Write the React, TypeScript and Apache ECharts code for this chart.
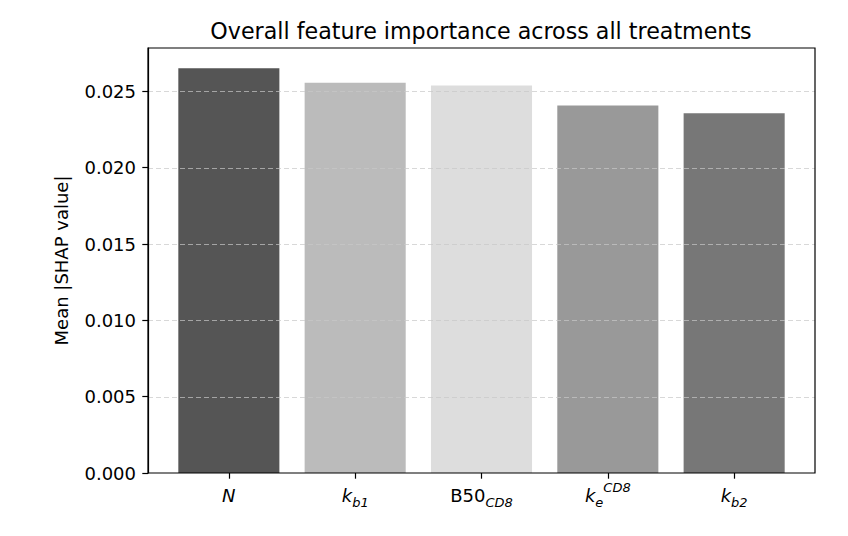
import React, { useEffect, useRef } from "react";
import * as echarts from "echarts";

const categories = ["N", "kb1", "B50CD8", "keCD8", "kb2"];
const categoryLabels = [
  "{i|N}",
  "{i|k}{sub|b1}",
  "{r|B50}{sub|CD8}",
  "{i|k}{sub|e}{sup|CD8}",
  "{i|k}{sub|b2}",
];
const values = [0.02651, 0.02556, 0.02539, 0.02408, 0.02356];
const barColors = ["#555555", "#bbbbbb", "#dddddd", "#999999", "#777777"];
const yMax = 0.02784;
const yGridTicks = [0.005, 0.01, 0.015, 0.02, 0.025];
const titleText = "Overall feature importance across all treatments";
const yName = "Mean |SHAP value|";

const FONT = "DejaVu Sans";

export default function App() {
  const ref = useRef<HTMLDivElement>(null);
  useEffect(() => {
    if (!ref.current) return;
    const chart = echarts.init(ref.current, null, { renderer: "svg" });
    const unit = (848 - 148 - 33) / 5.28;
    const inset = 0.14 * unit;
    chart.setOption({
      animation: false,
      textStyle: { fontFamily: FONT },
      graphic: [
        {
          type: "text",
          x: 481,
          y: 31,
          style: {
            text: titleText,
            fontFamily: FONT,
            fontSize: 22.2,
            fill: "#000",
            align: "center",
            verticalAlign: "middle",
          },
        },
      ],
      grid: [
        {
          left: 148,
          right: 33,
          top: 48,
          bottom: 63,
          show: true,
          borderColor: "#000",
          borderWidth: 1.2,
          backgroundColor: "transparent",
          z: 20,
        },
        {
          left: 148 + inset,
          right: 33 + inset,
          top: 48,
          bottom: 63,
        },
      ],
      xAxis: [
        { type: "value", gridIndex: 0, show: false, min: 0, max: 1 },
        {
          type: "category",
          gridIndex: 1,
          data: categories,
          axisLine: { show: false },
          axisTick: {
            show: true,
            alignWithLabel: true,
            length: 5.7,
            lineStyle: { color: "#000", width: 1.2 },
          },
          axisLabel: {
            interval: 0,
            margin: 8,
            color: "#000",
            formatter: (_v: string, idx: number) => categoryLabels[idx],
            rich: {
              i: { fontFamily: FONT, fontStyle: "italic", fontSize: 18, lineHeight: 28, verticalAlign: "middle", color: "#000" },
              r: { fontFamily: FONT, fontSize: 18, lineHeight: 28, verticalAlign: "middle", color: "#000" },
              sub: { fontFamily: FONT, fontStyle: "italic", fontSize: 13, lineHeight: 13, verticalAlign: "bottom", color: "#000" },
              sup: { fontFamily: FONT, fontStyle: "italic", fontSize: 13, lineHeight: 16, verticalAlign: "top", color: "#000" },
            },
          },
        },
      ],
      yAxis: [
        {
          type: "value",
          gridIndex: 0,
          min: 0,
          max: yMax,
          interval: 0.005,
          z: 10,
          name: yName,
          nameLocation: "middle",
          nameGap: 78,
          nameTextStyle: { fontFamily: FONT, fontSize: 18, color: "#000" },
          axisLine: { show: true, lineStyle: { color: "#000", width: 1.2 } },
          axisTick: { show: true, length: 5.7, lineStyle: { color: "#000", width: 1.2 } },
          axisLabel: {
            margin: 12,
            fontFamily: FONT,
            fontSize: 18,
            color: "#000",
            showMaxLabel: false,
            formatter: (v: number) => v.toFixed(3),
          },
          splitLine: { show: false },
        },
        { type: "value", gridIndex: 1, min: 0, max: yMax, show: false, splitLine: { show: false } },
      ],
      series: [
        {
          type: "bar",
          xAxisIndex: 1,
          yAxisIndex: 1,
          z: 2,
          barWidth: "80%",
          data: values.map((v, i) => ({ value: v, itemStyle: { color: barColors[i] } })),
        },
        {
          type: "custom",
          xAxisIndex: 0,
          yAxisIndex: 0,
          z: 5,
          silent: true,
          data: yGridTicks.map((t) => [0, t]),
          renderItem: (_params: any, api: any) => {
            const p0 = api.coord([0, api.value(1)]);
            const p1 = api.coord([1, api.value(1)]);
            const y = Math.round(p0[1]) + 0.5;
            return {
              type: "line",
              z2: 100,
              shape: { x1: p0[0], y1: y, x2: p1[0], y2: y },
              style: { stroke: "rgba(200,200,200,0.7)", lineDash: [5, 3], lineWidth: 1 },
            };
          },
        },
      ],
    });
    return () => chart.dispose();
  }, []);
  return (
    <div
      ref={ref}
      style={{ position: "absolute", left: 0, top: 0, width: 848, height: 536, background: "#fff" }}
    />
  );
}
